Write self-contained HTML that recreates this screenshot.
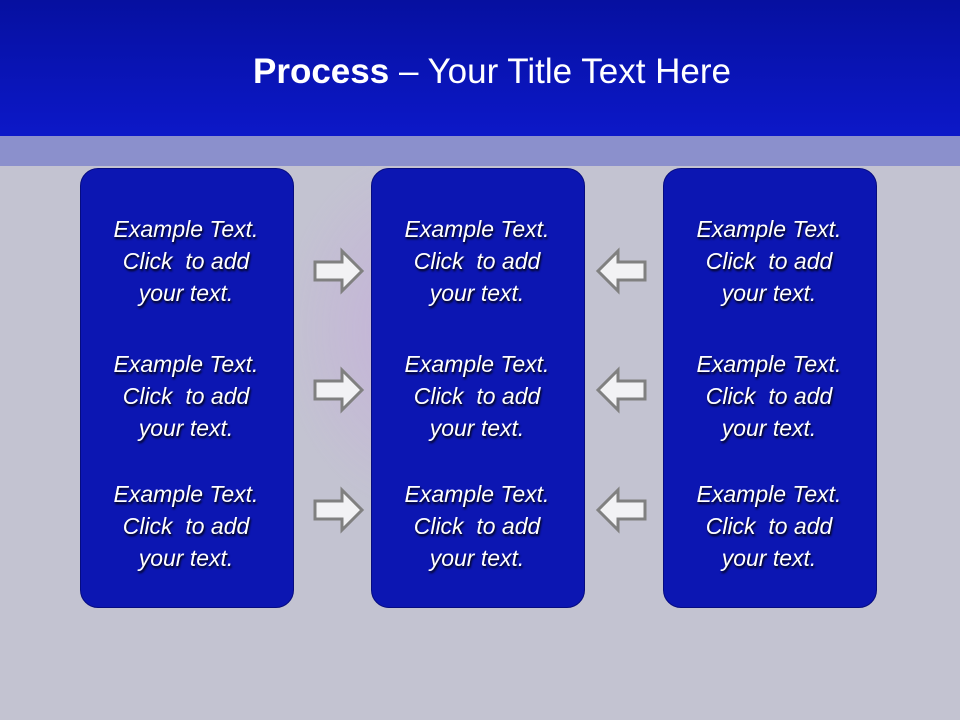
<!DOCTYPE html>
<html><head><style>
body{margin:0;width:960px;height:720px;overflow:hidden;position:relative;font-family:"Liberation Sans",sans-serif;
background:radial-gradient(ellipse 200px 260px at 420px 330px,rgba(200,150,230,.4),rgba(200,150,230,0) 70%),#c3c3d1;}
.hdr{position:absolute;left:0;top:0;width:960px;height:136px;background:linear-gradient(#0610a0,#0c18c8);}
.band{position:absolute;left:0;top:136px;width:960px;height:30px;background:#8b90cc;}
.t{position:absolute;top:52px;width:960px;text-align:center;color:#fff;font-size:35px;left:12px;}
.box{position:absolute;top:168px;width:212px;height:438px;background:#0c16b2;border:1px solid #060c80;border-radius:18px;}
.txt{position:absolute;width:212px;text-align:center;color:#fff;font-style:italic;font-size:23px;line-height:32px;text-shadow:1px 2px 2px #000;}
svg{position:absolute;}
</style></head><body>
<div class="hdr"></div><div class="band"></div>
<div class="t"><b>Process</b> – Your Title Text Here</div>
<div class="box" style="left:80px"></div>
<div class="box" style="left:371px"></div>
<div class="box" style="left:663px"></div>
<div class="txt" style="left:80px;top:213px">Example Text.<br>Click&nbsp; to add<br>your text.</div>
<div class="txt" style="left:80px;top:348px">Example Text.<br>Click&nbsp; to add<br>your text.</div>
<div class="txt" style="left:80px;top:478px">Example Text.<br>Click&nbsp; to add<br>your text.</div>
<div class="txt" style="left:371px;top:213px">Example Text.<br>Click&nbsp; to add<br>your text.</div>
<div class="txt" style="left:371px;top:348px">Example Text.<br>Click&nbsp; to add<br>your text.</div>
<div class="txt" style="left:371px;top:478px">Example Text.<br>Click&nbsp; to add<br>your text.</div>
<div class="txt" style="left:663px;top:213px">Example Text.<br>Click&nbsp; to add<br>your text.</div>
<div class="txt" style="left:663px;top:348px">Example Text.<br>Click&nbsp; to add<br>your text.</div>
<div class="txt" style="left:663px;top:478px">Example Text.<br>Click&nbsp; to add<br>your text.</div>
<svg width="960" height="720" style="left:0;top:0">
<defs><path id="r" d="M0,-9 H27 V-20 L47,0 L27,20 V9 H0 Z" fill="#f2f2f4" stroke="#808080" stroke-width="3"/></defs>
<use href="#r" x="315" y="271"/><use href="#r" x="315" y="390"/><use href="#r" x="315" y="510"/>
<use href="#r" transform="translate(645,271) scale(-1,1)"/><use href="#r" transform="translate(645,390) scale(-1,1)"/><use href="#r" transform="translate(645,510) scale(-1,1)"/>
</svg>
</body></html>
